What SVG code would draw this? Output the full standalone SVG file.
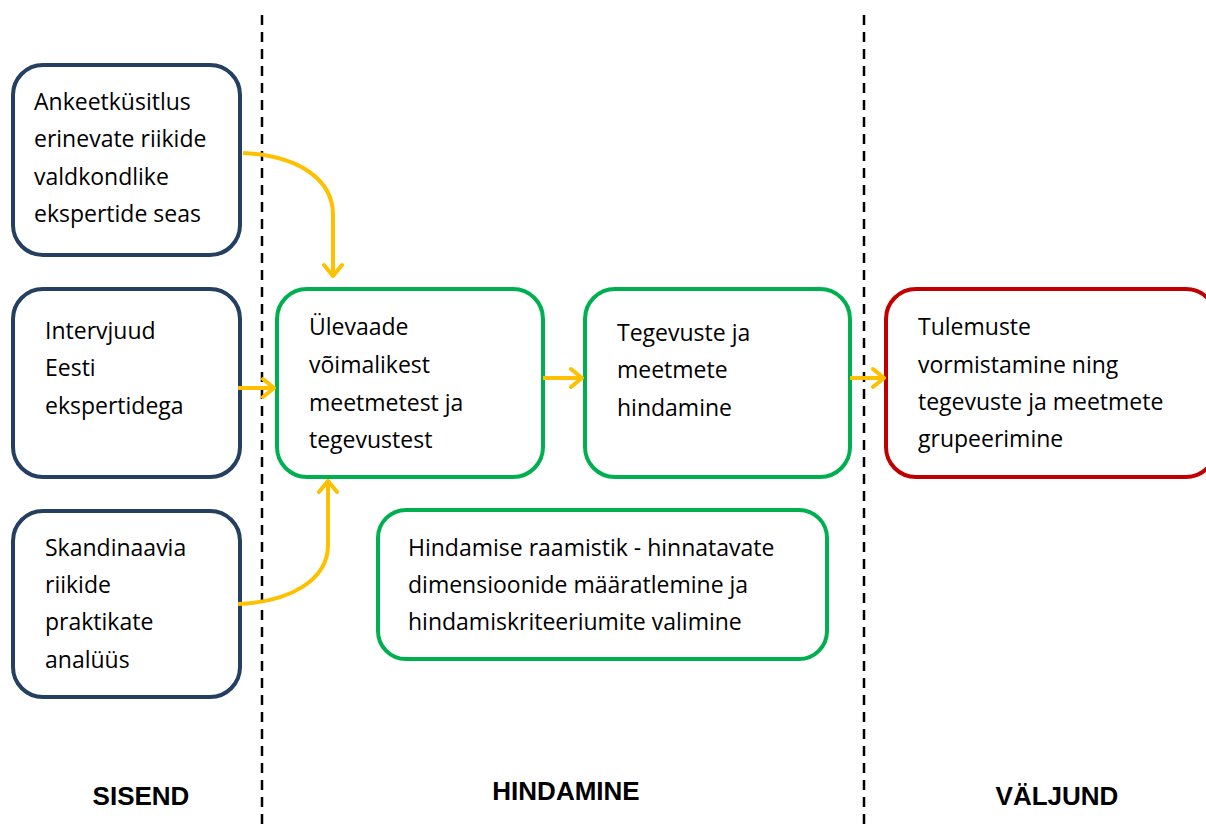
<svg xmlns="http://www.w3.org/2000/svg" width="1206" height="825" viewBox="0 0 1206 825">
  <style>
    .box { fill: #ffffff; stroke-width: 4; }
    .in { stroke: #243F60; }
    .mid { stroke: #00B050; }
    .out { stroke: #C00000; }
    .t { font-family: "Open Sans", Lato, sans-serif; font-size: 23px; fill: #000000; }
    .h { font-family: "Liberation Sans", Arial, sans-serif; font-size: 26px; font-weight: bold; fill: #000000; text-anchor: middle; }
    .sep { stroke: #000000; stroke-width: 2.5; stroke-dasharray: 10 7; }
    .con { fill: none; stroke: #FFC000; stroke-width: 4; }
  </style>
  <defs>
    <marker id="chev" viewBox="-14 -12 16 24" markerWidth="16" markerHeight="24" refX="0" refY="0" orient="auto" markerUnits="userSpaceOnUse">
      <path d="M-11,-9 L0,0 L-11,9" fill="none" stroke="#FFC000" stroke-width="4" stroke-linecap="round" stroke-linejoin="round"/>
    </marker>
  </defs>

  <rect width="1206" height="825" fill="#ffffff"/>

  <!-- phase separators -->
  <g id="separators">
    <line class="sep" x1="262" y1="15" x2="262" y2="825"/>
    <line class="sep" x1="864" y1="15" x2="864" y2="825"/>
  </g>

  <!-- inputs -->
  <g id="ankeet">
    <rect class="box in" x="13" y="65" width="227" height="190" rx="30"/>
    <text class="t" x="34" y="110">Ankeetküsitlus</text>
    <text class="t" x="34" y="147">erinevate riikide</text>
    <text class="t" x="34" y="185">valdkondlike</text>
    <text class="t" x="34" y="222">ekspertide seas</text>
  </g>
  <g id="intervjuud">
    <rect class="box in" x="13" y="289" width="227" height="188" rx="30"/>
    <text class="t" x="45" y="339">Intervjuud</text>
    <text class="t" x="45" y="376">Eesti</text>
    <text class="t" x="45" y="414">ekspertidega</text>
  </g>
  <g id="skandinaavia">
    <rect class="box in" x="13" y="511" width="227" height="186" rx="30"/>
    <text class="t" x="45" y="556">Skandinaavia</text>
    <text class="t" x="45" y="593">riikide</text>
    <text class="t" x="45" y="630">praktikate</text>
    <text class="t" x="45" y="668">analüüs</text>
  </g>

  <!-- assessment -->
  <g id="ulevaade">
    <rect class="box mid" x="277" y="289" width="266" height="188" rx="30"/>
    <text class="t" x="309" y="335">Ülevaade</text>
    <text class="t" x="309" y="373">võimalikest</text>
    <text class="t" x="309" y="411">meetmetest ja</text>
    <text class="t" x="309" y="448">tegevustest</text>
  </g>
  <g id="hindamine">
    <rect class="box mid" x="585" y="289" width="265" height="188" rx="30"/>
    <text class="t" x="617" y="341">Tegevuste ja</text>
    <text class="t" x="617" y="378">meetmete</text>
    <text class="t" x="617" y="416">hindamine</text>
  </g>
  <g id="raamistik">
    <rect class="box mid" x="378" y="510" width="449" height="149" rx="28"/>
    <text class="t" x="408" y="556">Hindamise raamistik - hinnatavate</text>
    <text class="t" x="408" y="593">dimensioonide määratlemine ja</text>
    <text class="t" x="408" y="630">hindamiskriteeriumite valimine</text>
  </g>

  <!-- output -->
  <g id="tulemused">
    <rect class="box out" x="886" y="289" width="330" height="188" rx="30"/>
    <text class="t" x="918" y="335">Tulemuste</text>
    <text class="t" x="918" y="373">vormistamine ning</text>
    <text class="t" x="918" y="410">tegevuste ja meetmete</text>
    <text class="t" x="918" y="447">grupeerimine</text>
  </g>

  <!-- connectors -->
  <g id="connectors">
    <path class="con" d="M243,153 C300,156 333,180 333,215 L333,276" marker-end="url(#chev)"/>
    <path class="con" d="M238,388 L274,388" marker-end="url(#chev)"/>
    <path class="con" d="M238,604 C290,602 328,580 328,545 L328,481" marker-end="url(#chev)"/>
    <path class="con" d="M543,378 L582,378" marker-end="url(#chev)"/>
    <path class="con" d="M850,378 L884,378" marker-end="url(#chev)"/>
  </g>

  <!-- phase labels -->
  <g id="labels">
    <text class="h" x="141" y="805">SISEND</text>
    <text class="h" x="566" y="800">HINDAMINE</text>
    <text class="h" x="1057" y="805">VÄLJUND</text>
  </g>
</svg>
